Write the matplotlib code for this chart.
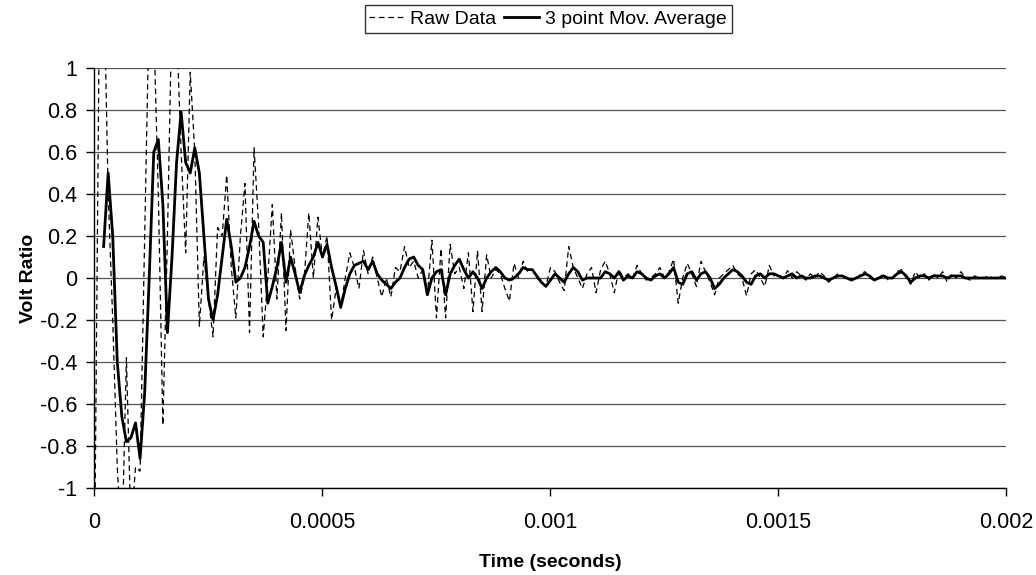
import numpy as np
import matplotlib
matplotlib.use("Agg")
import matplotlib.pyplot as plt

plt.rcParams['font.family'] = ['Liberation Sans', 'DejaVu Sans']

# sample spacing of the recording: 10 microseconds, 0 .. 0.002 s
dt = 1e-5

raw_data = [
    -1.4, 1.1, 1.5, 0.4, -0.2, -0.9, -1.3, -0.38, -1.2, -0.9,
    -0.92, 0.2, 1.3, 1.2, 0.4, -0.7, 0.2, 1.3, 1.2, 0.6,
    0.12, 0.98, 0.6, -0.23, 0.1, -0.1, -0.28, 0.24, 0.2, 0.49,
    0.05, -0.19, 0.2, 0.45, -0.26, 0.62, 0.25, -0.28, 0.0, 0.35,
    -0.1, 0.31, -0.25, 0.23, 0.05, -0.1, 0.0, 0.31, 0.0, 0.29,
    0.1, 0.2, -0.2, -0.05, -0.14, 0.0, 0.12, 0.05, -0.05, 0.13,
    0.02, 0.1, 0.0, -0.09, 0.0, -0.09, 0.05, 0.03, 0.15, 0.05,
    0.08, 0.0, 0.04, -0.08, 0.18, -0.19, 0.14, -0.19, 0.16, 0.02,
    0.05, -0.05, 0.12, -0.16, 0.13, -0.16, 0.11, 0.0, 0.04, 0.02,
    -0.05, -0.11, 0.07, 0.0, 0.08, 0.03, 0.04, 0.0, -0.02, -0.04,
    0.05, 0.03, -0.02, -0.06, 0.15, 0.05, 0.0, -0.05, 0.02, 0.05,
    -0.07, 0.04, 0.08, 0.02, -0.07, 0.04, 0.0, 0.02, 0.0, 0.06,
    0.02, -0.01, 0.0, 0.02, 0.05, 0.0, 0.03, 0.09, -0.12, 0.0,
    0.07, 0.02, -0.04, 0.08, 0.03, -0.02, -0.08, 0.0, 0.02, 0.04,
    0.06, 0.02, 0.0, -0.085, 0.02, 0.04, 0.0, -0.04, 0.06, 0.01,
    0.02, 0.0, 0.035, 0.0, 0.03, 0.01, -0.01, 0.02, 0.0, 0.03,
    0.01, -0.02, 0.0, 0.02, 0.01, -0.01, 0.0, -0.01, 0.02, 0.03,
    0.0, -0.01, 0.0, 0.02, -0.01, 0.0, 0.03, 0.04, 0.0, -0.03,
    0.03, 0.0, 0.02, -0.01, 0.02, 0.0, 0.03, -0.02, 0.02, 0.0,
    0.03, 0.0, -0.01, 0.01, 0.0, 0.0, 0.01, 0.0, 0.0, 0.01,
    0.0,
]

# 3 point moving average (starts at the third sample)
mov_avg = [
    0.15, 0.5, 0.2, -0.4, -0.66, -0.78, -0.76, -0.69,
    -0.86, -0.55, 0.0, 0.6, 0.66, 0.35, -0.26, 0.1, 0.55, 0.79,
    0.55, 0.5, 0.62, 0.5, 0.2, -0.1, -0.2, -0.08, 0.1, 0.28,
    0.15, -0.02, 0.0, 0.05, 0.15, 0.27, 0.2, 0.17, -0.12, -0.04,
    0.05, 0.17, -0.02, 0.1, 0.02, -0.07, 0.01, 0.06, 0.1, 0.17,
    0.1, 0.16, 0.05, -0.04, -0.14, -0.05, 0.02, 0.06, 0.07, 0.08,
    0.04, 0.08, 0.02, -0.01, -0.03, -0.05, -0.02, 0.0, 0.05, 0.09,
    0.1, 0.06, 0.04, -0.08, 0.0, 0.03, 0.04, -0.08, 0.02, 0.06,
    0.09, 0.04, 0.0, 0.03, 0.0, -0.05, 0.0, 0.03, 0.05, 0.03,
    0.0, -0.01, 0.0, 0.02, 0.05, 0.04, 0.04, 0.01, -0.02, -0.04,
    -0.01, 0.02, 0.0, -0.02, 0.02, 0.05, 0.03, -0.01, 0.0, 0.0,
    0.0, 0.0, 0.03, 0.02, 0.0, 0.03, -0.01, 0.01, 0.0, 0.03,
    0.02, 0.0, -0.01, 0.01, 0.02, 0.0, 0.02, 0.05, -0.02, -0.03,
    0.02, 0.03, -0.01, 0.02, 0.03, 0.0, -0.05, -0.03, 0.0, 0.02,
    0.04, 0.03, 0.01, -0.02, -0.03, 0.01, 0.02, 0.0, 0.02, 0.02,
    0.01, 0.0, 0.01, 0.02, 0.0, 0.01, 0.0, 0.0, 0.01, 0.01,
    0.0, -0.01, 0.0, 0.01, 0.01, 0.0, -0.01, 0.0, 0.01, 0.02,
    0.01, -0.01, 0.0, 0.01, 0.0, 0.0, 0.02, 0.03, 0.01, -0.02,
    0.0, 0.01, 0.01, 0.0, 0.01, 0.01, 0.01, 0.0, 0.01, 0.01,
    0.01, 0.0, 0.0, 0.0, 0.0, 0.0, 0.0, 0.0, 0.0, 0.0,
    0.0,
]

x_ticks = [0, 0.0005, 0.001, 0.0015, 0.002]
x_tick_labels = ['0', '0.0005', '0.001', '0.0015', '0.002']
y_ticks = [1, 0.8, 0.6, 0.4, 0.2, 0, -0.2, -0.4, -0.6, -0.8, -1]
y_tick_labels = ['1', '0.8', '0.6', '0.4', '0.2', '0', '-0.2', '-0.4', '-0.6', '-0.8', '-1']

t_raw = np.arange(len(raw_data)) * dt
t_avg = (np.arange(len(mov_avg)) + 2) * dt

fig = plt.figure(figsize=(10.36, 5.75), dpi=100)
ax = fig.add_axes([0.0912, 0.1513, 0.8803, 0.7304])

ax.set_axisbelow(True)
ax.yaxis.grid(True, color='#555555', linewidth=0.9)
ax.xaxis.grid(False)

ax.plot(t_raw, raw_data, color='black', linewidth=0.9, linestyle=(0, (4.5, 3)),
        label='Raw Data')
ax.plot(t_avg, mov_avg, color='black', linewidth=2.0, label='3 point Mov. Average')

ax.set_xlim(0, 0.002)
ax.set_ylim(-1, 1)
ax.set_xticks(x_ticks)
ax.set_xticklabels(x_tick_labels)
ax.set_yticks(y_ticks)
ax.set_yticklabels(y_tick_labels)

for side in ['top', 'right']:
    ax.spines[side].set_visible(False)
for side in ['left', 'bottom']:
    ax.spines[side].set_color('black')
    ax.spines[side].set_linewidth(1.0)

ax.tick_params(axis='both', direction='out', length=5.5, width=1.0, labelsize=15.5)
ax.tick_params(axis='y', pad=7)
ax.tick_params(axis='x', pad=12)

ax.set_xlabel('Time (seconds)', fontsize=14, fontweight='bold', labelpad=15)
ax.set_ylabel('Volt Ratio', fontsize=14, fontweight='bold', labelpad=2)

leg = fig.legend(loc='center', bbox_to_anchor=(0.529, 0.967), ncol=2,
                 fontsize=14, frameon=True, fancybox=False, edgecolor='black',
                 handlelength=1.8, handletextpad=0.3, columnspacing=0.4,
                 borderpad=0.25, borderaxespad=0)
leg.get_frame().set_linewidth(1.0)

fig.savefig('out.png', dpi=100)
